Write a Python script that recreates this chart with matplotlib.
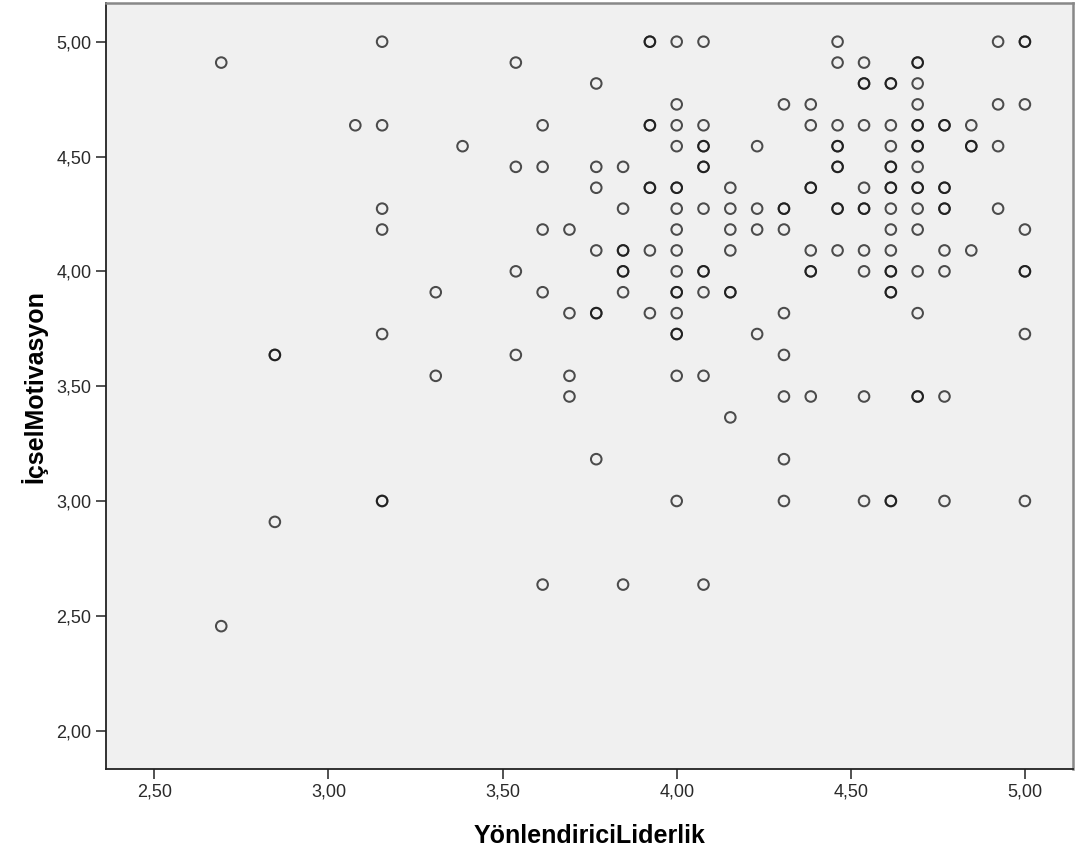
import matplotlib
matplotlib.use("Agg")
import matplotlib.pyplot as plt
from matplotlib.ticker import FixedLocator, FuncFormatter

# YönlendiriciLiderlik score of each column of cases
liderlik = [2.692, 2.846, 3.077, 3.154, 3.308, 3.385, 3.538, 3.615, 3.692,
            3.769, 3.846, 3.923, 4.000, 4.077, 4.154, 4.231, 4.308, 4.385,
            4.462, 4.538, 4.615, 4.692, 4.769, 4.846, 4.923, 5.000]

# İçselMotivasyon scores of the cases in each column
# (repeated values are cases with identical scores, they overplot darker)
motivasyon = [
    [4.909, 2.455],
    [3.636, 3.636, 2.909],
    [4.636],
    [5.000, 4.636, 4.273, 4.182, 3.727, 3.000, 3.000],
    [3.909, 3.545],
    [4.545],
    [4.909, 4.455, 4.000, 3.636],
    [4.636, 4.455, 4.182, 3.909, 2.636],
    [4.182, 3.818, 3.545, 3.455],
    [4.818, 4.455, 4.364, 4.091, 3.818, 3.818, 3.182],
    [4.455, 4.273, 4.091, 4.091, 4.000, 4.000, 3.909, 2.636],
    [5.000, 5.000, 4.636, 4.636, 4.364, 4.364, 4.091, 3.818],
    [5.000, 4.727, 4.636, 4.545, 4.364, 4.364, 4.273, 4.182, 4.091, 4.000,
     3.909, 3.909, 3.818, 3.727, 3.727, 3.545, 3.000],
    [5.000, 4.636, 4.545, 4.545, 4.455, 4.455, 4.273, 4.000, 4.000, 3.909,
     3.545, 2.636],
    [4.364, 4.273, 4.182, 4.091, 3.909, 3.909, 3.364],
    [4.545, 4.273, 4.182, 3.727],
    [4.727, 4.273, 4.273, 4.182, 3.818, 3.636, 3.455, 3.182, 3.000],
    [4.727, 4.636, 4.364, 4.364, 4.091, 4.000, 4.000, 3.455],
    [5.000, 4.909, 4.636, 4.545, 4.545, 4.455, 4.455, 4.273, 4.273, 4.091],
    [4.909, 4.818, 4.818, 4.636, 4.364, 4.273, 4.273, 4.091, 4.000, 3.455,
     3.000],
    [4.818, 4.818, 4.636, 4.545, 4.455, 4.455, 4.364, 4.364, 4.273, 4.182,
     4.091, 4.000, 4.000, 3.909, 3.909, 3.000, 3.000],
    [4.909, 4.909, 4.818, 4.727, 4.636, 4.636, 4.545, 4.545, 4.455, 4.364,
     4.364, 4.273, 4.182, 4.000, 3.818, 3.455, 3.455],
    [4.636, 4.636, 4.364, 4.364, 4.273, 4.273, 4.091, 4.000, 3.455, 3.000],
    [4.636, 4.545, 4.545, 4.091],
    [5.000, 4.727, 4.545, 4.273],
    [5.000, 5.000, 4.727, 4.182, 4.000, 4.000, 3.727, 3.000],
]

x_ticks = [2.50, 3.00, 3.50, 4.00, 4.50, 5.00]
y_ticks = [2.00, 2.50, 3.00, 3.50, 4.00, 4.50, 5.00]

xs = [x for x, col in zip(liderlik, motivasyon) for _ in col]
ys = [y for col in motivasyon for y in col]

plt.rcParams['font.family'] = ['Liberation Sans', 'DejaVu Sans']

fig = plt.figure(figsize=(10.76, 8.55), dpi=100)
ax = fig.add_axes([0.0985, 0.1006, 0.899, 0.8955])
ax.set_facecolor('#f0f0f0')

ax.scatter(xs, ys, s=58, facecolors='none', edgecolors='#141414',
           linewidths=1.45, alpha=0.75, zorder=3)

ax.set_xlim(2.361, 5.139)
ax.set_ylim(1.833, 5.167)

comma = FuncFormatter(lambda v, pos: f"{v:.2f}".replace('.', ','))
ax.xaxis.set_major_locator(FixedLocator(x_ticks))
ax.yaxis.set_major_locator(FixedLocator(y_ticks))
ax.xaxis.set_major_formatter(comma)
ax.yaxis.set_major_formatter(comma)
ax.tick_params(direction='out', length=7.5, width=1.1, colors='#222222',
               labelsize=13, labelcolor='#2a2a2a')
ax.tick_params(axis='x', pad=3)
ax.tick_params(axis='y', pad=3)

for side in ('left', 'bottom'):
    ax.spines[side].set_color('#222222')
    ax.spines[side].set_linewidth(1.3)
for side in ('top', 'right'):
    ax.spines[side].set_color('#888888')
    ax.spines[side].set_linewidth(1.8)

ax.set_xlabel('YönlendiriciLiderlik', fontsize=18, fontweight='bold', va='center')
ax.set_ylabel('İçselMotivasyon', fontsize=18, fontweight='bold', va='center')
ax.xaxis.set_label_coords(0.5, -0.0875)
ax.yaxis.set_label_coords(-0.0745, 0.5)

fig.savefig('out.png', dpi=100)
